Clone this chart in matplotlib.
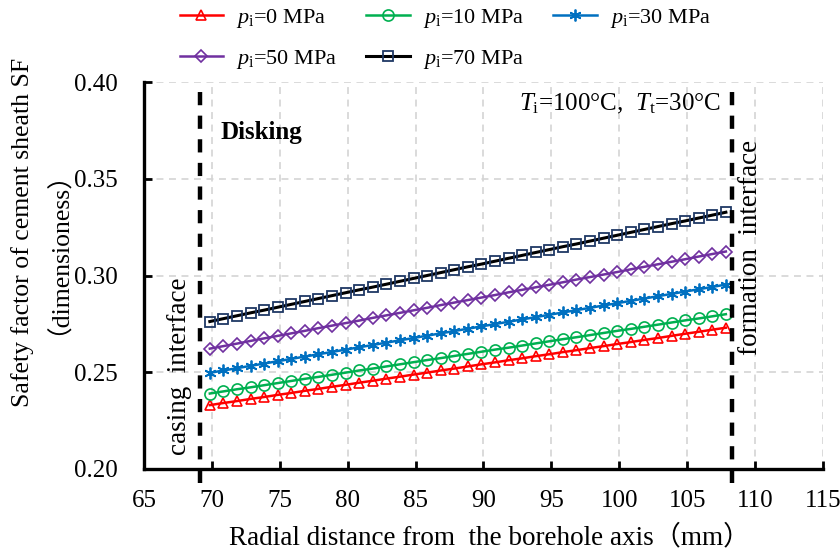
import numpy as np
import matplotlib.pyplot as plt

plt.rcParams['font.family'] = ['Liberation Serif', 'Noto Sans CJK SC']
plt.rcParams['mathtext.fontset'] = 'custom'
plt.rcParams['mathtext.rm'] = 'Liberation Serif'
plt.rcParams['mathtext.it'] = 'Liberation Serif:italic'
plt.rcParams['lines.scale_dashes'] = False

# 径向距离 (mm)
r = [69.85, 70.85, 71.85, 72.85, 73.85, 74.85, 75.85, 76.85, 77.85, 78.85,
     79.85, 80.85, 81.85, 82.85, 83.85, 84.85, 85.85, 86.85, 87.85, 88.85,
     89.85, 90.85, 91.85, 92.85, 93.85, 94.85, 95.85, 96.85, 97.85, 98.85,
     99.85, 100.85, 101.85, 102.85, 103.85, 104.85, 105.85, 106.85, 107.85]

sf_p0 = [0.2330, 0.2341, 0.2351, 0.2362, 0.2372, 0.2383, 0.2393, 0.2404, 0.2414, 0.2425,
         0.2435, 0.2446, 0.2456, 0.2467, 0.2477, 0.2488, 0.2498, 0.2509, 0.2519, 0.2530,
         0.2541, 0.2551, 0.2562, 0.2572, 0.2583, 0.2593, 0.2604, 0.2614, 0.2625, 0.2635,
         0.2646, 0.2656, 0.2667, 0.2677, 0.2688, 0.2699, 0.2709, 0.2720, 0.2730]
sf_p10 = [0.2390, 0.2401, 0.2412, 0.2422, 0.2433, 0.2444, 0.2455, 0.2466, 0.2476, 0.2487,
          0.2498, 0.2509, 0.2519, 0.2530, 0.2541, 0.2552, 0.2563, 0.2573, 0.2584, 0.2595,
          0.2606, 0.2617, 0.2627, 0.2638, 0.2649, 0.2660, 0.2671, 0.2681, 0.2692, 0.2703,
          0.2714, 0.2724, 0.2735, 0.2746, 0.2757, 0.2768, 0.2778, 0.2789, 0.2800]
sf_p30 = [0.2497, 0.2509, 0.2521, 0.2533, 0.2545, 0.2557, 0.2569, 0.2581, 0.2593, 0.2605,
          0.2617, 0.2629, 0.2641, 0.2653, 0.2665, 0.2677, 0.2689, 0.2701, 0.2713, 0.2725,
          0.2737, 0.2749, 0.2761, 0.2773, 0.2785, 0.2797, 0.2809, 0.2821, 0.2833, 0.2845,
          0.2857, 0.2869, 0.2881, 0.2893, 0.2905, 0.2917, 0.2929, 0.2941, 0.2953]
sf_p50 = [0.2622, 0.2635, 0.2648, 0.2662, 0.2675, 0.2688, 0.2701, 0.2714, 0.2728, 0.2741,
          0.2754, 0.2767, 0.2781, 0.2794, 0.2807, 0.2820, 0.2833, 0.2847, 0.2860, 0.2873,
          0.2886, 0.2899, 0.2913, 0.2926, 0.2939, 0.2952, 0.2965, 0.2979, 0.2992, 0.3005,
          0.3018, 0.3032, 0.3045, 0.3058, 0.3071, 0.3084, 0.3098, 0.3111, 0.3124]
sf_p70 = [0.2762, 0.2777, 0.2792, 0.2807, 0.2821, 0.2836, 0.2851, 0.2866, 0.2881, 0.2896,
          0.2911, 0.2926, 0.2940, 0.2955, 0.2970, 0.2985, 0.3000, 0.3015, 0.3030, 0.3045,
          0.3059, 0.3074, 0.3089, 0.3104, 0.3119, 0.3134, 0.3149, 0.3163, 0.3178, 0.3193,
          0.3208, 0.3223, 0.3238, 0.3253, 0.3268, 0.3282, 0.3297, 0.3312, 0.3327]

labels = [r'$p_\mathrm{i}$=0 MPa', r'$p_\mathrm{i}$=10 MPa', r'$p_\mathrm{i}$=30 MPa',
          r'$p_\mathrm{i}$=50 MPa', r'$p_\mathrm{i}$=70 MPa']

# 界面位置
casing_x = 69.1
formation_x = 108.3

fig = plt.figure(figsize=(8.4, 5.52), dpi=100)
ax = fig.add_axes([0.1714, 0.1504, 0.8083, 0.701])

h0, = ax.plot(r, sf_p0, color='#ff0000', lw=1.8, marker='^', ms=7, mfc='none', mew=1.2)
h10, = ax.plot(r, sf_p10, color='#00b050', lw=1.8, marker='o', ms=8, mfc='none', mew=1.2)
h30, = ax.plot(r, sf_p30, color='#0070c0', lw=1.8, marker=(6, 2, 0), ms=8.5, mew=1.3)
h50, = ax.plot(r, sf_p50, color='#7030a0', lw=1.8, marker='D', ms=6, mfc='none', mew=1.2)
h70, = ax.plot(r, sf_p70, color='black', lw=2.2, marker='s', ms=7, mfc='none',
               mec='#1f3864', mew=1.3)

# 套管、地层界面
for xv in [casing_x, formation_x]:
    ax.plot([xv, xv], [0.193, 0.395], color='black', lw=3.2, dashes=(9.5, 7.5),
            clip_on=False, zorder=5)

ax.set_xlim(65, 115)
ax.set_ylim(0.20, 0.40)
ax.set_xticks(np.arange(65, 116, 5))
ax.set_yticks([0.20, 0.25, 0.30, 0.35, 0.40])
ax.set_yticklabels(['0.20', '0.25', '0.30', '0.35', '0.40'])
ax.tick_params(direction='in', length=6, width=2, labelsize=18)
ax.tick_params(axis='x', pad=15)
ax.tick_params(axis='y', pad=19)
ax.grid(True, color='#d4d4d4', lw=1.2, dashes=(5, 4))
for s in ['top', 'right']:
    ax.spines[s].set_visible(False)
for s in ['left', 'bottom']:
    ax.spines[s].set_linewidth(2.4)

ax.text(70.6, 0.374, 'Disking', fontsize=18, fontweight='bold', va='center')
ax.text(92.6, 0.3886, r'$T_\mathrm{i}$=100°C,  $T_\mathrm{t}$=30°C', fontsize=18, va='center')
ax.text(67.6, 0.253, 'casing  interface', fontsize=19.5, rotation=90, ha='center', va='center')
ax.text(109.7, 0.3145, 'formation  interface', fontsize=19.5, rotation=90, ha='center', va='center')

fig.text(23 / 840, 1 - 232 / 552, 'Safety factor of cement sheath SF',
         rotation=90, ha='center', va='center', fontsize=18.5)
fig.text(45 / 840, 1 - 240 / 552, '（dimensioness）',
         rotation=90, ha='center', va='center', fontsize=18.5)
fig.text(490 / 840, 1 - 538 / 552, 'Radial distance from  the borehole axis（mm）',
         ha='center', va='center', fontsize=19.5)

fig.legend([h0, h50, h10, h70, h30],
           [labels[0], labels[3], labels[1], labels[4], labels[2]],
           ncol=3, loc='upper left', bbox_to_anchor=(0.19, 1.024), frameon=False,
           fontsize=16, handlelength=1.95, handletextpad=0.6, columnspacing=1.3,
           labelspacing=0.8)

fig.savefig('out.png', dpi=100)
